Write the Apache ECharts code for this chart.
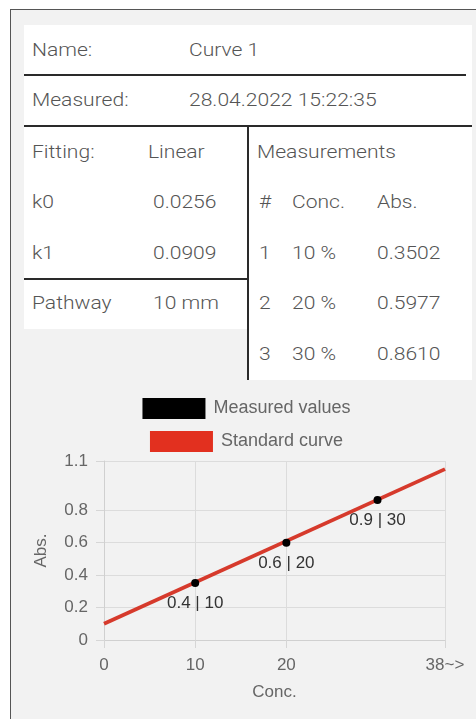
<!DOCTYPE html>
<html><head><meta charset="utf-8">
<script src="https://cdn.jsdelivr.net/npm/echarts@6/dist/echarts.min.js"></script>
<style>
html,body{margin:0;padding:0;background:#fff;width:476px;height:719px;overflow:hidden;}
#frame{position:absolute;left:10px;top:9px;width:520px;height:760px;border:1px solid #555;background:#f2f2f2;}
.card{position:absolute;background:#fff;}
.hl{position:absolute;height:2px;background:#2a2a2a;}
.vl{position:absolute;width:2px;background:#2a2a2a;}
.t{position:absolute;font-family:Roboto,"Noto Sans",sans-serif;font-weight:300;font-size:18px;color:#555;line-height:22px;transform-origin:0 50%;transform:translateY(-50%) scaleX(1.17);white-space:nowrap;}
#chart{position:absolute;left:24px;top:380px;width:445px;height:339px;}
</style></head>
<body>
<div id="frame"></div>
<div id="tables"></div>
<div id="chart"></div>
<script>
// ---- data ----
const infoLabels = ['Name:', 'Measured:'];
const infoValues = ['Curve 1', '28.04.2022 15:22:35'];
const fitLabels = ['Fitting:', 'k0', 'k1', 'Pathway'];
const fitValues = ['Linear', '0.0256', '0.0909', '10 mm'];
const measTitle = 'Measurements';
const measHeader = ['#', 'Conc.', 'Abs.'];
const measIndex = [1, 2, 3];
const measConc = [10, 20, 30];
const measAbs = [0.3502, 0.5977, 0.8610];
const curveConc = [0, 37.4];
const curveAbs = [0.10, 1.05];
const xTickValues = [0, 10, 20, 37.4];
const xTickLabels = ['0', '10', '20', '38~>'];
const yTickValues = [0, 0.2, 0.4, 0.6, 0.8, 1.1];
const yTickLabels = ['0', '0.2', '0.4', '0.6', '0.8', '1.1'];

// ---- tables (HTML) ----
const T = document.getElementById('tables');
function box(cls, l, t, w, h) {
  const d = document.createElement('div'); d.className = cls;
  d.style.left = l + 'px'; d.style.top = t + 'px';
  if (w != null) d.style.width = w + 'px';
  if (h != null) d.style.height = h + 'px';
  T.appendChild(d); return d;
}
function txt(s, x, y) {
  const d = document.createElement('div'); d.className = 't';
  d.textContent = s; d.style.left = x + 'px'; d.style.top = y + 'px';
  T.appendChild(d);
}
box('card', 24, 25, 448, 102);
box('card', 24, 127, 224, 202);
box('card', 249, 127, 223, 253);
box('hl', 24, 74, 442);
box('hl', 24, 125, 448);
box('hl', 24, 278, 224);
box('vl', 247, 127, null, 253);

const infoY = [50, 100];
infoLabels.forEach((s, i) => { txt(s, 32, infoY[i]); txt(infoValues[i], 189, infoY[i]); });
const fitY = [152, 202, 253, 303];
const fitVX = [148, 153, 153, 153];
fitLabels.forEach((s, i) => { txt(s, 32, fitY[i]); txt(fitValues[i], fitVX[i], fitY[i]); });
txt(measTitle, 257, 152);
const colX = [259, 292, 377];
measHeader.forEach((s, i) => txt(s, colX[i], 202));
const rowY = [253, 303, 354];
measIndex.forEach((n, i) => {
  txt(String(n), colX[0], rowY[i]);
  txt(measConc[i] + ' %', colX[1], rowY[i]);
  txt(measAbs[i].toFixed(4), colX[2], rowY[i]);
});

// ---- chart ----
const font = '"Liberation Sans", Arial, sans-serif';
const chart = echarts.init(document.getElementById('chart'));
const labelOf = (vals, labs) => v => {
  const i = vals.findIndex(x => Math.abs(x - v) < 1e-6);
  return i >= 0 ? labs[i] : '';
};
chart.setOption({
  animation: false,
  textStyle: { fontFamily: font },
  legend: [
    { data: [{ name: 'Measured values', icon: 'rect', itemStyle: { color: '#000', opacity: 1 } }], left: 'center', top: 13,
      itemWidth: 63, itemHeight: 21, selectedMode: false,
      textStyle: { color: '#666', fontSize: 18, fontFamily: font, padding: [0, 0, 0, 3] } },
    { data: [{ name: 'Standard curve', icon: 'rect', itemStyle: { color: '#e2301f' } }], left: 'center', top: 46,
      itemWidth: 63, itemHeight: 21, selectedMode: false,
      textStyle: { color: '#666', fontSize: 18, fontFamily: font, padding: [0, 0, 0, 3] } }
  ],
  grid: { left: 80, right: 24, top: 81, bottom: 79, outerBoundsMode: 'none' },
  xAxis: {
    type: 'value', min: xTickValues[0], max: xTickValues[xTickValues.length - 1],
    name: 'Conc.', nameLocation: 'middle', nameGap: 44,
    nameTextStyle: { color: '#666', fontSize: 17, fontFamily: font },
    axisLine: { show: true, lineStyle: { color: '#d0d0d0', width: 1 } },
    axisTick: { show: true, length: 8, customValues: xTickValues, lineStyle: { color: '#d6d6d6' } },
    axisLabel: { customValues: xTickValues, formatter: labelOf(xTickValues, xTickLabels),
      color: '#666', fontSize: 17, fontFamily: font, margin: 17 },
    splitLine: { show: true, lineStyle: { color: '#dcdcdc' } }
  },
  yAxis: {
    type: 'value', min: yTickValues[0], max: yTickValues[yTickValues.length - 1],
    name: 'Abs.', nameLocation: 'middle', nameGap: 54,
    nameTextStyle: { color: '#666', fontSize: 17, fontFamily: font },
    axisLine: { show: true, lineStyle: { color: '#d0d0d0', width: 1 } },
    axisTick: { show: true, length: 8, customValues: yTickValues, lineStyle: { color: '#d6d6d6' } },
    axisLabel: { customValues: yTickValues, formatter: labelOf(yTickValues, yTickLabels),
      color: '#666', fontSize: 17, fontFamily: font, margin: 16 },
    splitLine: { show: true, lineStyle: { color: '#dcdcdc' } }
  },
  series: [
    { name: 'Standard curve', type: 'line', showSymbol: false, z: 2,
      data: curveConc.map((c, i) => [c, curveAbs[i]]),
      lineStyle: { color: '#d63a2c', width: 3.8 }, itemStyle: { color: '#d63a2c' } },
    { name: 'Measured values', type: 'scatter', symbolSize: 8, z: 3,
      data: measConc.map((c, i) => [c, measAbs[i]]),
      itemStyle: { color: '#000', opacity: 1 },
      label: { show: true, position: 'bottom', distance: 8, color: '#333', fontSize: 17, fontFamily: font,
        formatter: p => p.value[1].toFixed(1) + ' | ' + p.value[0] } }
  ]
});
</script>
</body></html>
